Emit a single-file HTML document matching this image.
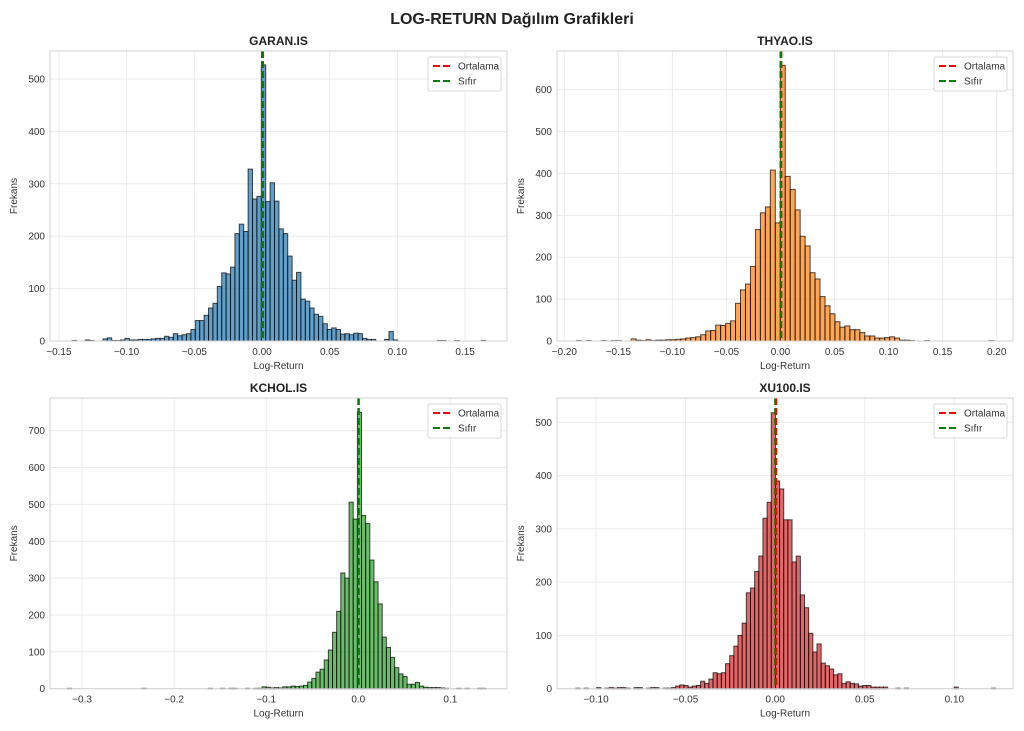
<!DOCTYPE html>
<html><head><meta charset="utf-8"><style>
body{margin:0;background:#fff;}
svg{display:block;font-family:"Liberation Sans",Arial,sans-serif;}
</style></head><body>
<svg id="s" width="1024" height="731" xmlns="http://www.w3.org/2000/svg">
<rect width="1024" height="731" fill="#fff"/>
<text x="512" y="24" text-anchor="middle" font-size="16" font-weight="bold" fill="#222">LOG-RETURN Dağılım Grafikleri</text>
</svg>
<script>
const S=document.getElementById('s');
let out='';
function panel(c){
 const X=v=>c.x0+v*c.pxu, Y=n=>c.y0-n*c.pyc;
 // grid
 c.xt.forEach(v=>{const px=X(v); out+=`<line x1="${px}" y1="${c.t}" x2="${px}" y2="${c.b}" stroke="#ebebeb" stroke-width="1"/>`;
  out+=`<text x="${px}" y="${c.b+14}" text-anchor="middle" font-size="10" fill="#333">${c.fmt(v)}</text>`;});
 c.yt.forEach(v=>{const py=Y(v); out+=`<line x1="${c.l}" y1="${py}" x2="${c.r}" y2="${py}" stroke="#ebebeb" stroke-width="1"/>`;
  out+=`<text x="${c.l-5}" y="${py+3.5}" text-anchor="end" font-size="10" fill="#333">${v}</text>`;});
 // bars
 const bins={};
 c.right.forEach((h,i)=>bins[i]=h);
 c.left.forEach((h,i)=>bins[-(i+1)]=h);
 const kmin=Math.floor((c.lo-c.start)/c.bw), kmax=Math.floor((c.hi-c.start)/c.bw);
 (c.extra||[]).forEach(e=>{const k=Math.floor((e[0]-c.start)/c.bw); bins[k]=(bins[k]||0)+e[1];});
 bins[kmin]=bins[kmin]||1; bins[kmax]=bins[kmax]||1;
 for(let k=kmin;k<=kmax;k++){
  const h=bins[k]||0; const x=X(c.start+k*c.bw), w=c.bw*c.pxu;
  const y=Y(h);
  out+=`<rect x="${x.toFixed(2)}" y="${y.toFixed(2)}" width="${w.toFixed(2)}" height="${(c.y0-y).toFixed(2)}" fill="${c.col}" fill-opacity="0.7" stroke="#000" stroke-opacity="0.7" stroke-width="1"/>`;
 }
 // lines
 out+=`<line x1="${X(c.mean)}" y1="${c.t}" x2="${X(c.mean)}" y2="${c.b}" stroke="red" stroke-width="2" stroke-dasharray="7,3"/>`;
 out+=`<line x1="${X(0)}" y1="${c.t}" x2="${X(0)}" y2="${c.b}" stroke="green" stroke-width="2" stroke-dasharray="7,3"/>`;
 // frame
 out+=`<rect x="${c.l}" y="${c.t}" width="${c.r-c.l}" height="${c.b-c.t}" fill="none" stroke="#d0d0d0" stroke-width="1"/>`;
 // legend
 const lx=c.r-79, ly=c.t+6;
 out+=`<rect x="${lx}" y="${ly}" width="73" height="34" rx="2" fill="#fff" fill-opacity="0.85" stroke="#d8d8d8"/>`;
 out+=`<line x1="${lx+5}" y1="${ly+9}" x2="${lx+23}" y2="${ly+9}" stroke="red" stroke-width="2" stroke-dasharray="7,3"/>`;
 out+=`<text x="${lx+30}" y="${ly+12.5}" font-size="10" fill="#333">Ortalama</text>`;
 out+=`<line x1="${lx+5}" y1="${ly+24}" x2="${lx+23}" y2="${ly+24}" stroke="green" stroke-width="2" stroke-dasharray="7,3"/>`;
 out+=`<text x="${lx+30}" y="${ly+27.5}" font-size="10" fill="#333">Sıfır</text>`;
 // labels
 const cx=(c.l+c.r)/2;
 out+=`<text x="${cx}" y="${c.t-6}" text-anchor="middle" font-size="12" font-weight="bold" fill="#222">${c.title}</text>`;
 out+=`<text x="${cx}" y="${c.b+28}" text-anchor="middle" font-size="10" fill="#333">Log-Return</text>`;
 const yl=c.l-33, ym=(c.t+c.b)/2;
 out+=`<text x="${yl}" y="${ym}" text-anchor="middle" font-size="10" fill="#333" transform="rotate(-90 ${yl} ${ym})">Frekans</text>`;
}
const f2=v=>(v<0?'−':'')+Math.abs(v).toFixed(2), f1=v=>(v<0?'−':'')+Math.abs(v).toFixed(1);
panel({title:'GARAN.IS',l:50,r:507,t:51,b:341,x0:262,pxu:1354,y0:341,pyc:0.524,bw:0.00325,start:-0.0005,lo:-0.14,hi:0.163,mean:0.0008,col:'#1f77b4',
 right:[527,266,302,267,214,205,162,116,131,80,76,63,51,47,33,22,25,22,13,14,12,15,14,5,3,3,0,0,3,18,2,0,0,0,0,0,0,0,0,0,1,1],
 left:[276,271,328,209,223,205,141,128,130,104,72,63,49,39,39,22,14,12,10,14,7,9,5,5,4,3,3,3,2,2,5,2,1,1,6,4,0,0,0,2,0,0,1,0,0,0,0,1],
 extra:[[0.145,1],[-0.125,1]],
 xt:[-0.15,-0.1,-0.05,0,0.05,0.1,0.15],yt:[0,100,200,300,400,500],fmt:f2});
panel({title:'THYAO.IS',l:557,r:1013,t:51,b:341,x0:780.5,pxu:1081,y0:341,pyc:0.4189,bw:0.0046,start:-0.0002,lo:-0.187,hi:0.196,mean:0.0008,col:'#ff7f0e',
 right:[658,393,362,313,250,227,163,148,106,84,65,46,33,36,27,27,20,12,12,7,7,8,10,7,2,2,1,0,0,1],
 left:[282,408,320,306,266,178,136,122,90,48,42,37,38,25,24,15,10,8,7,5,4,3,3,2,2,1,3,1,2,5,0,0,1,1,0,0,0,0,1,0,0,0,0,0,1],
 extra:[[-0.162,1]],
 xt:[-0.2,-0.15,-0.1,-0.05,0,0.05,0.1,0.15,0.2],yt:[0,100,200,300,400,500,600],fmt:f2});
panel({title:'KCHOL.IS',l:50,r:507,t:398,b:688.7,x0:358.3,pxu:920.8,y0:688.7,pyc:0.3686,bw:0.0045,start:-0.001,lo:-0.312,hi:0.137,mean:0.0006,col:'#2ca02c',
 right:[750,470,448,349,290,230,140,112,85,57,40,33,12,12,17,7,4,3,3,3,2,1,0,0,1,0,1,0,0,1],
 left:[460,506,300,314,210,153,105,78,53,45,28,18,9,7,6,7,5,5,2,3,2,4,5,1,1,0,1,0,0,1,1,0,1,0,0,1],
 extra:[[-0.235,1]],
 xt:[-0.3,-0.2,-0.1,0,0.1],yt:[0,100,200,300,400,500,600,700],fmt:f1});
panel({title:'XU100.IS',l:557,r:1013,t:398,b:688.7,x0:775.2,pxu:1791.7,y0:688.7,pyc:0.5327,bw:0.00232,start:-0.0022,lo:-0.11,hi:0.122,mean:0.0006,col:'#d62728',
 right:[518,390,375,317,317,238,249,176,152,104,69,84,48,43,37,26,28,10,13,10,9,5,6,6,3,3,3,3,0,0,1,0,1,0,0,0,0,0,0,0,0,0,0,0,3],
 left:[350,320,249,220,189,180,123,100,80,62,47,30,28,30,18,10,14,6,5,3,6,7,5,2,1,1,0,2,2,1,0,2,2,0,1,2,2,1,2,1,0,2,0,0,0,0,0,1],
 extra:[[-0.105,1]],
 xt:[-0.1,-0.05,0,0.05,0.1],yt:[0,100,200,300,400,500],fmt:f2});
S.insertAdjacentHTML('beforeend',out);
</script>
</body></html>
